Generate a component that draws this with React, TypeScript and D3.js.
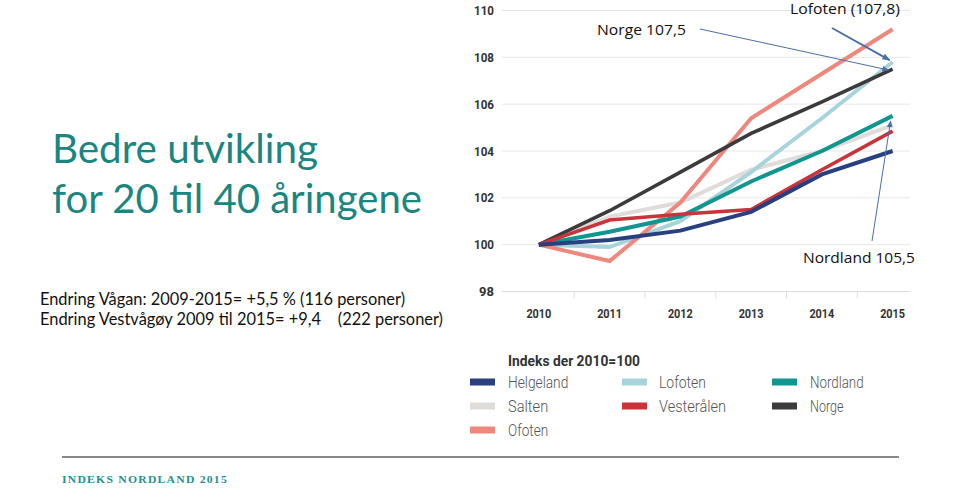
import React from "react";
import * as d3 from "d3";

const years = ["2010", "2011", "2012", "2013", "2014", "2015"];
const yTicks = [98, 100, 102, 104, 106, 108, 110];

const helgeland = [100, 100.2, 100.6, 101.4, 103.0, 104.0];
const salten = [100, 101.2, 101.8, 103.2, 104.0, 105.1];
const ofoten = [100, 99.3, 101.8, 105.4, 107.3, 109.2];
const lofoten = [100, 99.9, 101.0, 103.1, 105.4, 107.8];
const vesteralen = [100, 101.05, 101.3, 101.5, 103.2, 104.85];
const nordland = [100, 100.55, 101.2, 102.7, 104.0, 105.5];
const norge = [100, 101.45, 103.1, 104.75, 106.1, 107.5];

const seriesNames = ["Helgeland", "Salten", "Ofoten", "Lofoten", "Vesterålen", "Nordland", "Norge"];
const seriesColors = ["#283f80", "#dfdcd9", "#ee877d", "#a9d3db", "#c9343b", "#10958f", "#3b3b3d"];
const seriesValues = [helgeland, salten, ofoten, lofoten, vesteralen, nordland, norge];
// drawing order (bottom to top)
const drawOrder = ["Salten", "Lofoten", "Ofoten", "Norge", "Nordland", "Vesterålen", "Helgeland"];

// legend layout: columns as in reference
const legendOrder = [
  ["Helgeland", "Salten", "Ofoten"],
  ["Lofoten", "Vesterålen"],
  ["Nordland", "Norge"],
];

const titleLines = ["Bedre utvikling", "for 20 til 40 åringene"];
const bodyLines = [
  "Endring Vågan: 2009-2015= +5,5 % (116 personer)",
  "Endring Vestvågøy 2009 til 2015= +9,4    (222 personer)",
];

export default function App() {
  const W = 960, H = 502;
  const x = d3.scaleBand<string>().domain(years).range([503.5, 928]).padding(0);
  const cx = (yr: string) => (x(yr) as number) + x.bandwidth() / 2;
  const y = d3.scaleLinear().domain([98, 110]).range([291.5, 10.5]);

  const line = d3
    .line<number>()
    .x((_, i) => cx(years[i]))
    .y((d) => y(d))
    .curve(d3.curveLinear);

  const teal = "#1b8580";
  const sans = "Lato, 'Open Sans', sans-serif";
  const ann = "'Open Sans', 'Noto Sans', sans-serif";
  const cond = "Roboto, 'Noto Sans', sans-serif";
  const arrowBlue = "#4b6ea9";

  const last = years[years.length - 1];
  const x15 = cx(last);

  return (
    <svg width={W} height={H} style={{ position: "absolute", left: 0, top: 0, background: "#fff" }}>
      <defs>
        <marker id="arr" viewBox="0 0 10 10" refX="9" refY="5" markerWidth="7" markerHeight="7" orient="auto" markerUnits="userSpaceOnUse">
          <path d="M0,1 L10,5 L0,9 z" fill={arrowBlue} />
        </marker>
        <marker id="arr2" viewBox="0 0 10 10" refX="9" refY="5" markerWidth="8" markerHeight="8" orient="auto" markerUnits="userSpaceOnUse">
          <path d="M0,1 L10,5 L0,9 z" fill={arrowBlue} />
        </marker>
      </defs>
      <rect width={W} height={H} fill="#fff" />

      {/* Title */}
      {titleLines.map((t, i) => (
        <text key={t} x={52} y={163 + i * 50} fill={teal} fontFamily={sans} fontSize={40}
          textLength={i === 0 ? 266 : 370} lengthAdjust="spacingAndGlyphs">
          {t}
        </text>
      ))}

      {/* Body text */}
      {bodyLines.map((t, i) => (
        <text key={t} x={40} y={305 + i * 20} fill="#111" fontFamily={sans} fontSize={16.5}
          textLength={i === 0 ? 365 : 403} lengthAdjust="spacingAndGlyphs" style={{ whiteSpace: "pre" }}>
          {t}
        </text>
      ))}

      {/* Gridlines */}
      {yTicks.map((v) => (
        <line key={v} x1={502} x2={910} y1={y(v)} y2={y(v)} stroke={v === 98 ? "#dcdcdc" : "#e8e8e8"} strokeWidth={1} />
      ))}
      {/* Y labels */}
      {yTicks.map((v) => (
        <text key={"l" + v} x={494} y={y(v) + 4.5} textAnchor="end" fill="#333" fontFamily={cond} fontWeight={700} fontSize={13}
          textLength={v >= 100 ? 20 : 15} lengthAdjust="spacingAndGlyphs">
          {v}
        </text>
      ))}
      {/* x tick separators */}
      {years.slice(1).map((yr) => (
        <line key={"t" + yr} x1={x(yr) as number} x2={x(yr) as number} y1={y(98)} y2={y(98) + 7} stroke="#e0e0e0" strokeWidth={1} />
      ))}
      {/* x labels */}
      {years.map((yr) => (
        <text key={"x" + yr} x={cx(yr)} y={318} textAnchor="middle" fill="#333" fontFamily={cond} fontWeight={700} fontSize={13.5}
          textLength={25} lengthAdjust="spacingAndGlyphs">
          {yr}
        </text>
      ))}

      {/* Lines */}
      {drawOrder.map((name) => {
        const i = seriesNames.indexOf(name);
        return (
          <path key={name} d={line(seriesValues[i]) || ""} fill="none" stroke={seriesColors[i]}
            strokeWidth={name === "Norge" || name === "Vesterålen" ? 3.6 : 4} strokeLinejoin="miter" strokeLinecap="butt" />
        );
      })}

      {/* Annotations */}
      <text x={597} y={35} fontFamily={ann} fontWeight={400} fontSize={14.5} fill="#111" textLength={89} lengthAdjust="spacingAndGlyphs">Norge 107,5</text>
      <line x1={700} y1={29} x2={x15 - 4} y2={y(107.5) + 1} stroke={arrowBlue} strokeWidth={1} markerEnd="url(#arr)" />

      <text x={790} y={14} fontFamily={ann} fontWeight={400} fontSize={14.5} fill="#111" textLength={110} lengthAdjust="spacingAndGlyphs">Lofoten (107,8)</text>
      <line x1={832} y1={28} x2={x15 - 3} y2={y(107.8) - 2} stroke={arrowBlue} strokeWidth={2} markerEnd="url(#arr2)" />

      <text x={803} y={263} fontFamily={ann} fontWeight={400} fontSize={14.5} fill="#111" textLength={112} lengthAdjust="spacingAndGlyphs">Nordland 105,5</text>
      <line x1={872} y1={241} x2={x15 - 2} y2={y(105.5) + 5} stroke={arrowBlue} strokeWidth={1} markerEnd="url(#arr)" />

      {/* Legend */}
      <text x={508} y={366} fontFamily={cond} fontWeight={700} fontSize={15} fill="#333" textLength={132} lengthAdjust="spacingAndGlyphs">
        Indeks der 2010=100
      </text>
      {legendOrder.map((col, ci) =>
        col.map((name, ri) => {
          const i = seriesNames.indexOf(name);
          const sx = [470, 622, 772][ci];
          const tx = [508, 659, 810][ci];
          const cy = 382 + ri * 24;
          return (
            <g key={name}>
              <rect x={sx} y={cy - 3.5} width={25} height={7} fill={seriesColors[i]} />
              <text x={tx} y={cy + 5.5} fontFamily={cond} fontWeight={300} fontSize={16.5} fill="#555"
                textLength={name.length * 6.7} lengthAdjust="spacingAndGlyphs">
                {name}
              </text>
            </g>
          );
        })
      )}

      {/* Footer */}
      <line x1={62} x2={899} y1={457} y2={457} stroke="#888" strokeWidth={2.2} />
      <text x={62} y={482.5} fontFamily="'Liberation Serif', 'DejaVu Serif', serif" fontWeight={700} fontSize={9.5} fill="#23918f"
        letterSpacing={1} textLength={166} lengthAdjust="spacingAndGlyphs">
        INDEKS NORDLAND 2015
      </text>
    </svg>
  );
}
